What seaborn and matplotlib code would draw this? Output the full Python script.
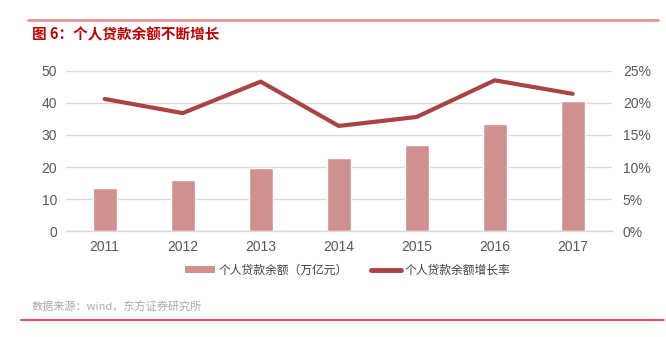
import matplotlib
matplotlib.use("Agg")
import matplotlib.pyplot as plt
import seaborn as sns
import pandas as pd
from matplotlib.lines import Line2D
from matplotlib.patches import Patch

years = ["2011", "2012", "2013", "2014", "2015", "2016", "2017"]
loan_balance = [13.6, 16.0, 19.6, 22.9, 27.0, 33.4, 40.5]
growth_rate = [20.6, 18.4, 23.3, 16.4, 17.8, 23.5, 21.4]
left_ticks = [0, 10, 20, 30, 40, 50]
right_ticks = [0, 5, 10, 15, 20, 25]
right_labels = ["0%", "5%", "10%", "15%", "20%", "25%"]

title = "图 6：个人贷款余额不断增长"
bar_name = "个人贷款余额（万亿元）"
line_name = "个人贷款余额增长率"
source = "数据来源：wind，东方证券研究所"

sns.set_theme(style="white")
plt.rcParams['font.family'] = ['Liberation Sans', 'Noto Sans CJK SC', 'DejaVu Sans']

df = pd.DataFrame({"year": years, "balance": loan_balance, "rate": growth_rate})

bar_color = "#D09090"
line_color = "#A94442"
tick_color = "#595959"

fig = plt.figure(figsize=(6.66, 3.37), dpi=100)
ax = fig.add_axes([0.0986, 0.3136, 0.8199, 0.4766])

sns.barplot(data=df, x="year", y="balance", color=bar_color, width=0.31,
            saturation=1, ax=ax)
ax.set_ylim(0, 50)
ax.set_xlim(-0.5, 6.5)
ax.set_yticks(left_ticks)
ax.grid(axis="y", color="#D9D9D9", linewidth=1)
ax.set_axisbelow(True)
for s in ["top", "left", "right"]:
    ax.spines[s].set_visible(False)
ax.spines["bottom"].set_color("#D9D9D9")
ax.spines["bottom"].set_linewidth(1)
ax.set_xlabel("")
ax.set_ylabel("")
ax.tick_params(axis="both", length=0, labelsize=10, colors=tick_color, pad=6)

ax2 = ax.twinx()
sns.lineplot(data=df, x="year", y="rate", color=line_color, linewidth=3,
             ax=ax2, sort=False)
ax2.set_ylim(0, 25)
ax2.set_yticks(right_ticks)
ax2.set_yticklabels(right_labels)
for s in ["top", "left", "right", "bottom"]:
    ax2.spines[s].set_visible(False)
ax2.set_ylabel("")
ax2.set_xlabel("")
ax2.tick_params(axis="both", length=0, labelsize=10, colors=tick_color, pad=8)
ax2.grid(False)

handles = [Patch(facecolor=bar_color, edgecolor="none"),
           Line2D([0], [0], color=line_color, linewidth=3.5)]
fig.legend(handles, [bar_name, line_name], loc="center",
           bbox_to_anchor=(0.522, 1 - 271 / 337), ncol=2, frameon=False,
           fontsize=8.5, handlelength=2.6, handleheight=0.5, handletextpad=0.3,
           columnspacing=1.9, labelcolor="#404040")

fig.add_artist(Line2D([28 / 666, 658 / 666], [1 - 20 / 337, 1 - 20 / 337],
                      color="#E89090", linewidth=2, transform=fig.transFigure))
fig.text(32 / 666, 1 - 34 / 337, title, fontsize=10.5, fontweight="bold",
         color="#C00000", va="center", ha="left",
         family=['Noto Sans CJK SC', 'DejaVu Sans'])
fig.text(32 / 666, 1 - 307 / 337, source, fontsize=8, color="#AAAAAA",
         va="center", ha="left", family=['Noto Sans CJK SC', 'DejaVu Sans'])
fig.add_artist(Line2D([21 / 666, 664 / 666], [1 - 320 / 337, 1 - 320 / 337],
                      color="#E03030", linewidth=1.2, transform=fig.transFigure))

fig.savefig("out.png", dpi=100)
